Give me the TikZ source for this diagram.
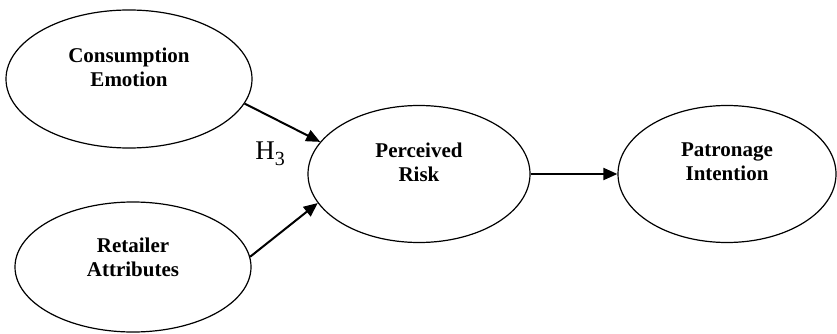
\documentclass[tikz,border=0pt]{standalone}
\usepackage{fontspec}
\setmainfont{Liberation Serif}
\usepackage{tikz}
\usetikzlibrary{shapes.geometric,arrows.meta}

\begin{document}
\begin{tikzpicture}[x=1pt, y=-1pt,
    oval/.style={ellipse, draw, line width=1.2pt, inner sep=0pt},
    txt/.style={align=center, font=\fontsize{21}{24}\selectfont\bfseries, inner sep=0pt},
    link/.style={line width=2pt, -{Triangle[length=14pt, width=12pt]}}]
            \useasboundingbox (0,0) rectangle (837,334);

            \node[oval, minimum width=246pt, minimum height=138pt] (CE) at (129,79) {};
            \node[oval, minimum width=236pt, minimum height=130pt] (RA) at (133,267) {};
            \node[oval, minimum width=222pt, minimum height=137pt] (PR) at (419,174) {};
            \node[oval, minimum width=218pt, minimum height=137pt] (PI) at (727,174) {};

            \node[txt] (CEtext) at ([yshift=11.5pt]CE.center) {Consumption\\Emotion};
            \node[txt] (RAtext) at ([yshift=10pt]RA.center) {Retailer\\Attributes};
            \node[txt] (PRtext) at ([yshift=12pt]PR.center) {Perceived\\Risk};
            \node[txt] (PItext) at ([yshift=12pt]PI.center) {Patronage\\Intention};

            \draw[link] (CE.-12) -- (PR.162);
            \draw[link] (RA.5) -- (PR.196);
            \draw[link] (PR.east) -- (PI.west);

            \node[inner sep=0pt, font=\fontsize{27}{30}\selectfont] (H3) at (270,154)
              {H\raisebox{-6pt}{\fontsize{20}{20}\selectfont 3}};
          \end{tikzpicture}
\end{document}
